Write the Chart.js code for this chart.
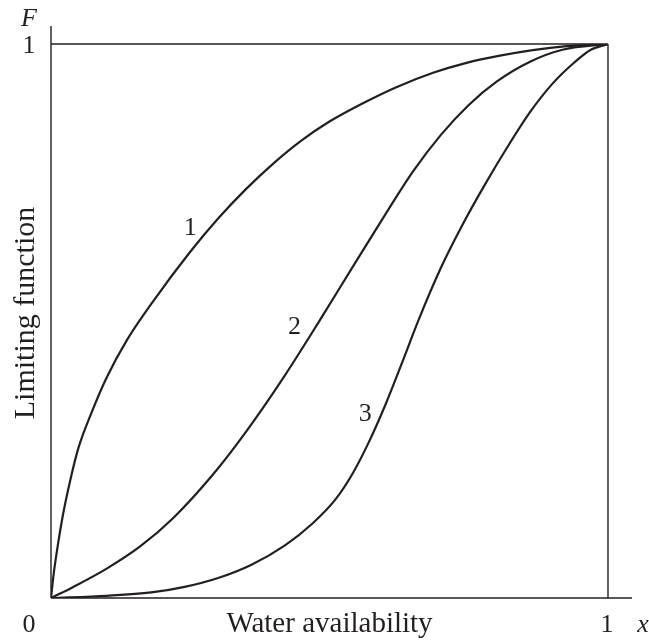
<!DOCTYPE html>
<html>
<head>
<meta charset="utf-8">
<script src="https://cdn.jsdelivr.net/npm/chart.js@4"></script>
<style>
  html, body { margin: 0; padding: 0; background: #fff; }
  #wrap { width: 649px; height: 641px; position: relative; }
</style>
</head>
<body>
<div id="wrap"><canvas id="chart" width="649" height="641"></canvas></div>
<script>
// valores (x = disponibilidad de agua, F = función limitante)
const curve1X = [0, 0.005, 0.013, 0.022, 0.034, 0.049, 0.073, 0.10, 0.136, 0.183, 0.25, 0.30, 0.35, 0.40, 0.45, 0.50, 0.56, 0.62, 0.686, 0.746, 0.806, 0.865, 0.926, 1];
const curve1Y = [0, 0.045, 0.100, 0.153, 0.210, 0.270, 0.335, 0.398, 0.465, 0.535, 0.625, 0.685, 0.738, 0.785, 0.826, 0.860, 0.893, 0.922, 0.948, 0.966, 0.979, 0.989, 0.996, 1];

const curve2X = [0, 0.04, 0.10, 0.16, 0.22, 0.29, 0.35, 0.42, 0.48, 0.54, 0.60, 0.65, 0.70, 0.75, 0.80, 0.86, 0.92, 1];
const curve2Y = [0, 0.020, 0.053, 0.093, 0.145, 0.222, 0.300, 0.402, 0.497, 0.595, 0.692, 0.770, 0.836, 0.890, 0.932, 0.968, 0.990, 1];

const curve3X = [0, 0.10, 0.18, 0.24, 0.30, 0.36, 0.42, 0.47, 0.51, 0.54, 0.57, 0.60, 0.63, 0.66, 0.70, 0.74, 0.78, 0.82, 0.86, 0.90, 0.94, 0.97, 1];
const curve3Y = [0, 0.004, 0.010, 0.020, 0.036, 0.060, 0.095, 0.135, 0.177, 0.222, 0.280, 0.348, 0.424, 0.502, 0.596, 0.676, 0.748, 0.815, 0.877, 0.928, 0.967, 0.990, 1];

const curveLabels = ['1', '2', '3'];
const labelX = [0.250, 0.437, 0.564];
const labelY = [0.672, 0.492, 0.336];

const xTickLabels = ['0', '1'];
const yTickLabels = ['1'];
const xTitle = 'Water availability';
const yTitle = 'Limiting function';

const INK = '#231f20';
const SERIF = '"Liberation Serif", "DejaVu Serif", serif';

function toPoints(xs, ys) {
    return xs.map((x, i) => ({ x: x, y: ys[i] }));
}

function curveDataset(xs, ys) {
    return {
        data: toPoints(xs, ys),
        showLine: true,
        borderColor: INK,
        borderWidth: 2.2,
        pointRadius: 0,
        fill: false,
        cubicInterpolationMode: 'monotone'
    };
}

// dibuja ejes, marco y textos
const decorPlugin = {
    id: 'decor',
    afterDatasetsDraw(chart) {
        const ctx = chart.ctx;
        const xs = chart.scales.x;
        const ys = chart.scales.y;
        const x0 = xs.getPixelForValue(0);
        const x1 = xs.getPixelForValue(1);
        const y0 = ys.getPixelForValue(0);
        const y1 = ys.getPixelForValue(1);

        ctx.save();
        ctx.strokeStyle = INK;
        ctx.lineWidth = 1.4;
        ctx.beginPath();
        // eje y, un poco más alto que F = 1
        ctx.moveTo(x0, y0);
        ctx.lineTo(x0, y1 - 18);
        // eje x, se prolonga pasado x = 1
        ctx.moveTo(x0, y0);
        ctx.lineTo(x1 + 24, y0);
        // línea F = 1
        ctx.moveTo(x0, y1);
        ctx.lineTo(x1, y1);
        // línea x = 1
        ctx.moveTo(x1, y1);
        ctx.lineTo(x1, y0);
        ctx.stroke();

        ctx.fillStyle = INK;
        ctx.textBaseline = 'alphabetic';
        ctx.textAlign = 'center';

        // etiquetas de las curvas
        ctx.font = '26px ' + SERIF;
        curveLabels.forEach((t, i) => {
            ctx.fillText(t, xs.getPixelForValue(labelX[i]), ys.getPixelForValue(labelY[i]) + 9);
        });

        // marcas de los ejes
        ctx.fillText(xTickLabels[0], x0 - 22, y0 + 34);
        ctx.fillText(xTickLabels[1], x1 - 1, y0 + 34);
        ctx.fillText(yTickLabels[0], x0 - 22, y1 + 9);

        ctx.font = 'italic 26px ' + SERIF;
        ctx.fillText('x', x1 + 35, y0 + 34);
        ctx.fillText('F', x0 - 22, y1 - 18);

        // títulos de los ejes
        ctx.font = '29px ' + SERIF;
        ctx.fillText(xTitle, (x0 + x1) / 2, y0 + 34);

        ctx.font = '30px ' + SERIF;
        ctx.translate(x0 - 17, (y0 + y1) / 2 - 8);
        ctx.rotate(-Math.PI / 2);
        ctx.fillText(yTitle, 0, 0);
        ctx.restore();
    }
};

new Chart(document.getElementById('chart'), {
    type: 'scatter',
    data: {
        datasets: [
            curveDataset(curve1X, curve1Y),
            curveDataset(curve2X, curve2Y),
            curveDataset(curve3X, curve3Y)
        ]
    },
    options: {
        responsive: false,
        animation: false,
        layout: {
            padding: { left: 51, right: 41, top: 44, bottom: 43 }
        },
        scales: {
            x: {
                type: 'linear',
                min: 0,
                max: 1,
                grid: { display: false, drawTicks: false },
                border: { display: false },
                ticks: { display: false }
            },
            y: {
                type: 'linear',
                min: 0,
                max: 1,
                grid: { display: false, drawTicks: false },
                border: { display: false },
                ticks: { display: false }
            }
        },
        plugins: {
            legend: { display: false },
            tooltip: { enabled: false }
        }
    },
    plugins: [decorPlugin]
});
</script>
</body>
</html>
